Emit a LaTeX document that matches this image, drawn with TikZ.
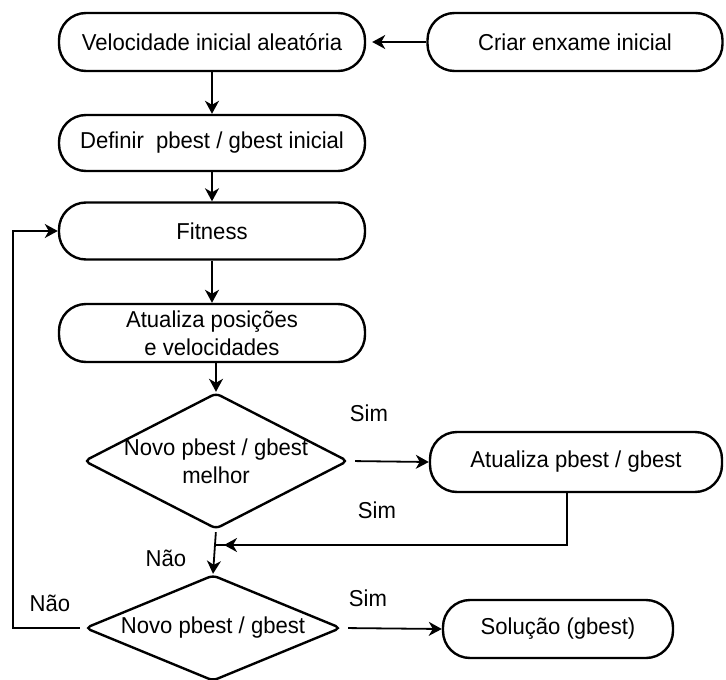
\documentclass[tikz,border=0pt]{standalone}
\usepackage{fontspec}
\setmainfont{Liberation Sans}[FakeStretch=0.96]
\usepackage{tikz}
\usetikzlibrary{shapes.geometric, arrows.meta}

\tikzset{
  caixa/.style={draw, line width=2.4pt, rectangle, rounded corners=27pt,
    minimum height=56pt, align=center, inner sep=2pt},
  losango/.style={draw, line width=2.4pt, diamond, rounded corners=5pt,
    inner sep=0pt},
  seta/.style={line width=1.8pt, -{Stealth[length=13pt,width=14pt,inset=4pt]}},
  linha/.style={line width=1.8pt},
  rotulo/.style={inner sep=0pt, align=center}
}

\begin{document}
\begin{tikzpicture}[x=1pt,y=-1pt,font=\fontsize{23}{28}\selectfont]
    \useasboundingbox (0,0) rectangle (726,680);

    % caixas
    \node[caixa, minimum width=306pt, minimum height=58pt] (vel) at (212,42) {Velocidade inicial aleat\'oria};
    \node[caixa, minimum width=295pt, minimum height=58pt] (cria) at (575,42) {Criar enxame inicial};
    \node[caixa, minimum width=306pt] (def) at (212,143) {Definir\ \ pbest / gbest inicial};
    \node[caixa, minimum width=306pt, minimum height=57pt] (fit) at (212,231) {Fitness};
    \node[caixa, minimum width=306pt, minimum height=58pt] (atu) at (212,333) {Atualiza posi\c{c}\~oes\\e velocidades};
    \node[losango, minimum width=264pt, minimum height=136pt] (d1) at (216,461) {};
    \node[caixa, minimum width=292pt, minimum height=60pt] (upd) at (576,462) {Atualiza pbest / gbest};
    \node[losango, minimum width=256pt, minimum height=106pt] (d2) at (213,628) {};
    \node[caixa, minimum width=230pt, minimum height=58pt] (sol) at (558,629) {Solu\c{c}\~ao (gbest)};

    % textos dos losangos
    \node[rotulo] (t1) at (d1) {Novo pbest / gbest\\melhor};
    \node[rotulo] (t2) at (d2) {Novo pbest / gbest};

    \coordinate (junta) at (216,545);
    \coordinate (volta) at (13,628);

    % setas
    \draw[seta] (cria.west) -- ([xshift=6pt]vel.east);
    \draw[seta] (vel) -- (def);
    \draw[seta] (def) -- (fit);
    \draw[seta] (fit) -- (atu);
    \draw[seta] (atu.south -| d1.north) -- (d1.north);
    \draw[seta, shorten <=6pt] (d1.east) -- (upd.west);
    \draw[linha] ([xshift=-9pt]upd.south) |- (junta);
    \draw[seta] ([xshift=-9pt]upd.south |- junta) -- ([xshift=8pt]junta);
    \draw[seta, shorten <=2pt] (d1.south) -- (d2.north);
    \draw[seta, shorten <=6pt] (d2.east) -- (sol.west);
    \draw[seta, shorten <=4pt] (d2.west) -- (volta) |- (fit.west);

    % rotulos
    \node[rotulo] (sim1) at (369,413) {Sim};
    \node[rotulo] (sim2) at (377,510) {Sim};
    \node[rotulo] (nao1) at (166,558) {N\~ao};
    \node[rotulo] (sim3) at (368,598) {Sim};
    \node[rotulo] (nao2) at (50,603) {N\~ao};
\end{tikzpicture}
\end{document}
